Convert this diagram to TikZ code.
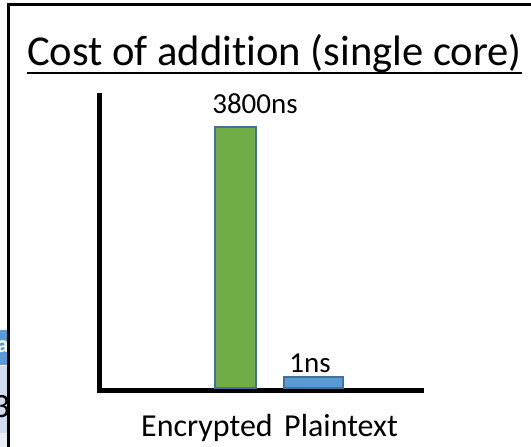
\documentclass[tikz,border=0pt]{standalone}
\usepackage{fontspec}
\setmainfont{Carlito}[Ligatures=NoCommon]
\definecolor{barline}{HTML}{41719C}
\definecolor{bargreen}{HTML}{70AD47}
\definecolor{barblue}{HTML}{5B9BD5}
\definecolor{stripblue}{HTML}{5A9AD6}
\definecolor{striplight}{HTML}{CFDCEE}
\definecolor{stripfaint}{HTML}{E9EEF6}
\begin{document}
\begin{tikzpicture}[x=1pt,y=-1pt,
  lbl/.style={inner sep=0pt, anchor=base, font=\fontsize{32}{38}\selectfont},
  val/.style={inner sep=0pt, anchor=base, font=\fontsize{29}{35}\selectfont},
  bar/.style={draw=barline, line width=1.6pt, inner sep=0pt, anchor=south west},
  axisline/.style={line width=4.5pt, line join=miter, line cap=butt}]
\useasboundingbox (0,0) rectangle (531,447);
\fill[white] (0,0) rectangle (531,447);

% strip of the neighbouring slide, cut off at the left edge
\begin{scope}
  \clip (0,0) rectangle (8,447);
  \fill[stripblue] (0,330) rectangle (8,365);
  \fill[striplight] (0,366) rectangle (8,433);
  \fill[stripfaint] (0,433) rectangle (8,447);
  \node (stripa) [anchor=base east, inner sep=0pt, text=white,
    font=\fontsize{24}{28}\selectfont\bfseries] at (9,352) {a};
  \node (stripthree) [anchor=base east, inner sep=0pt,
    font=\fontsize{34}{40}\selectfont] at (10,417) {3};
\end{scope}

% slide frame
\fill[white] (8.5,4.5) rectangle (531,447);
\draw[line width=3pt] (8.5,447) -- (8.5,4.5) -- (531,4.5);

% title
\node (title) [inner sep=0pt, anchor=base west,
  font=\fontsize{42.6}{50}\selectfont] at (27,65) {Cost of addition (single core)};
\draw[line width=2.2pt] ([yshift=-8pt]title.base west) -- ([yshift=-8pt]title.base east);

% axes
\coordinate (ytop) at (99.5,93);
\coordinate (origin) at (99.5,390.5);
\coordinate (xend) at (424,390.5);
\draw[axisline] (ytop) -- (origin) -- (xend);

% bars
\node (encbar) [bar, fill=bargreen, minimum width=41pt, minimum height=261pt] at (214,388.5) {};
\node (plainbar) [bar, fill=barblue, minimum width=59pt, minimum height=11pt] at (283,388.5) {};

% values
\node (encval) [val] at (255,113) {3800ns};
\node (plainval) [val] at (310,372) {1ns};

% category labels
\node (enclbl) [lbl] at (207,436) {Encrypted};
\node (plainlbl) [lbl] at (341,436) {Plaintext};
\end{tikzpicture}
\end{document}
